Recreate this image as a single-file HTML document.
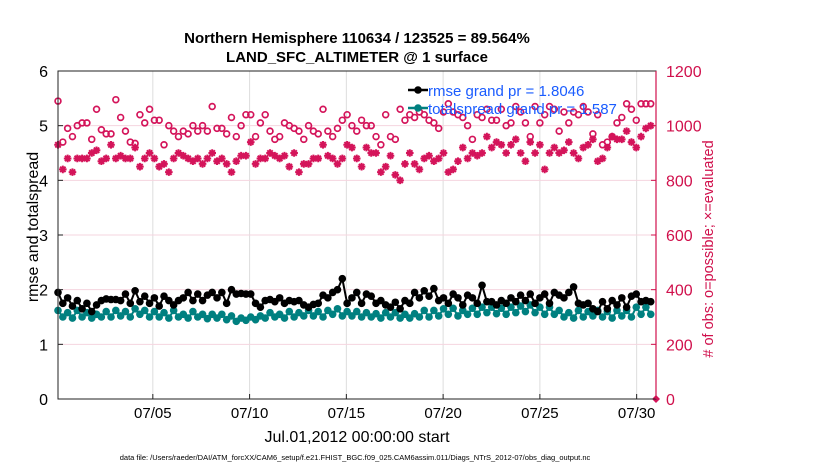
<!DOCTYPE html>
<html><head><meta charset="utf-8"><style>
body{margin:0;background:#fff;font-family:"Liberation Sans",Arial,sans-serif}
svg{display:block}
</style></head><body>
<svg id="chart" width="830" height="470" xmlns="http://www.w3.org/2000/svg" font-family="Liberation Sans, Arial, sans-serif">
<text x="357" y="43" text-anchor="middle" font-size="15" font-weight="bold">Northern Hemisphere 110634 / 123525 = 89.564%</text>
<text x="357" y="62" text-anchor="middle" font-size="15" font-weight="bold">LAND_SFC_ALTIMETER @ 1 surface</text>
<g id="grid"></g>
<g id="marks"></g>
<g id="axes"></g>
<text transform="translate(38,227) rotate(-90)" text-anchor="middle" font-size="16">rmse and totalspread</text>
<text transform="translate(713,249) rotate(-90)" text-anchor="middle" font-size="14.5" fill="#d0104c"># of obs: o=possible; ×=evaluated</text>
<text x="357" y="442" text-anchor="middle" font-size="16">Jul.01,2012 00:00:00 start</text>
<text x="355" y="460" text-anchor="middle" font-size="7.5">data file: /Users/raeder/DAI/ATM_forcXX/CAM6_setup/f.e21.FHIST_BGC.f09_025.CAM6assim.011/Diags_NTrS_2012-07/obs_diag_output.nc</text>
<g>
<line x1="408" y1="90" x2="428" y2="90" stroke="#000" stroke-width="2.5"/><circle cx="418" cy="90" r="3.8" fill="#000"/>
<text x="428" y="96" font-size="15" fill="#1a5cff">rmse grand pr = 1.8046</text>
<line x1="408" y1="108" x2="428" y2="108" stroke="#008080" stroke-width="2.5"/><circle cx="418" cy="108" r="3.8" fill="#008080"/>
<text x="428" y="114" font-size="15" fill="#1a5cff">totalspread grand pr = 1.587</text>
</g>
</svg>
<script>
const rmse=[1.95,1.75,1.85,1.7,1.8,1.65,1.75,1.6,1.72,1.8,1.83,1.82,1.82,1.8,1.92,1.75,1.98,1.78,1.88,1.75,1.85,1.7,1.88,1.8,1.72,1.8,1.85,1.95,1.8,1.92,1.8,1.9,1.95,1.85,1.95,1.75,2.0,1.92,1.93,1.92,1.92,1.75,1.68,1.8,1.82,1.78,1.85,1.75,1.8,1.78,1.8,1.72,1.68,1.73,1.75,1.9,1.85,1.95,2.0,2.2,1.75,1.85,1.95,1.75,1.92,1.88,1.75,1.8,1.72,1.68,1.77,1.65,1.8,1.75,1.95,1.85,1.98,1.88,2.02,1.8,1.85,1.75,1.92,1.85,1.72,1.9,1.85,1.75,2.08,1.78,1.78,1.72,1.8,1.75,1.85,1.78,1.9,1.8,1.92,1.75,1.85,1.92,1.75,1.95,1.9,1.85,1.95,2.05,1.75,1.72,1.75,1.65,1.6,1.78,1.65,1.8,1.72,1.85,1.68,1.88,1.92,1.78,1.8,1.78];
const spread=[1.62,1.5,1.58,1.48,1.62,1.5,1.58,1.48,1.55,1.5,1.6,1.5,1.62,1.52,1.6,1.5,1.65,1.55,1.62,1.5,1.6,1.5,1.58,1.48,1.62,1.5,1.55,1.48,1.6,1.5,1.55,1.47,1.55,1.48,1.55,1.45,1.52,1.42,1.48,1.44,1.5,1.45,1.52,1.48,1.58,1.5,1.55,1.48,1.6,1.5,1.58,1.52,1.62,1.52,1.6,1.5,1.62,1.55,1.65,1.52,1.6,1.52,1.6,1.5,1.58,1.5,1.56,1.48,1.58,1.5,1.58,1.48,1.55,1.48,1.56,1.5,1.62,1.5,1.62,1.52,1.65,1.55,1.66,1.52,1.62,1.55,1.66,1.55,1.68,1.58,1.68,1.56,1.66,1.55,1.68,1.58,1.7,1.6,1.72,1.58,1.68,1.55,1.68,1.55,1.62,1.5,1.58,1.48,1.62,1.5,1.6,1.52,1.62,1.5,1.6,1.48,1.62,1.52,1.62,1.5,1.68,1.55,1.68,1.55];
const possible=[1090,940,990,960,1000,1010,1010,950,1060,985,970,970,1095,1030,980,940,935,1040,1010,1060,1020,1020,930,1000,980,960,980,970,1000,980,1000,980,1070,990,990,970,1030,960,1000,1040,1040,960,1010,1040,980,950,960,1010,1000,990,980,950,1000,980,970,1060,980,960,990,1020,1040,1000,980,1020,1000,1000,960,930,1040,960,950,1060,1020,1040,1030,1050,1040,1020,1010,990,1050,1080,1050,1040,1030,1000,950,1040,1030,1060,1020,1020,1060,1000,1010,1070,1050,1010,960,1070,1010,1040,1070,1060,980,1050,1010,1050,1040,1070,1050,970,1040,930,940,960,1010,1030,1080,1060,1020,1080,1080,1080];
const evaluated=[930,840,880,830,880,880,880,900,910,870,880,930,880,890,880,880,920,850,880,900,880,850,860,830,880,900,890,880,870,880,860,880,900,870,880,860,830,870,890,890,940,860,880,880,900,890,880,890,850,900,830,860,860,880,880,930,890,880,860,880,930,920,880,850,920,900,900,830,850,890,820,800,860,900,860,840,880,890,870,880,900,830,840,870,920,880,900,890,900,960,920,940,930,900,930,950,900,870,940,900,930,840,900,920,900,910,940,900,880,920,930,950,870,880,920,960,950,950,980,940,920,960,990,1000];
const xTickDays=[4,9,14,19,24,29];
const xTickLabels=['07/05','07/10','07/15','07/20','07/25','07/30'];
const yTicksL=[0,1,2,3,4,5,6];
const yTicksR=[0,200,400,600,800,1000,1200];
const X0=58,X1=656,Y0=399,Y1=71,T0=-0.9,T1=30;
const ns='http://www.w3.org/2000/svg';
function xs(t){return X0+(t-T0)/(T1-T0)*(X1-X0)}
function tOf(i){return -0.9+i*0.249}
function yl(v){return Y0-v/6*(Y0-Y1)}
function yr(v){return Y0-v/1200*(Y0-Y1)}
function mk(tag,at,parent){const e=document.createElementNS(ns,tag);for(const k in at)e.setAttribute(k,at[k]);parent.appendChild(e);return e}
const grid=document.getElementById('grid'),marks=document.getElementById('marks'),axes=document.getElementById('axes');
xTickDays.forEach((d,k)=>{const x=xs(d);
const g=mk('line',{x1:x,x2:x,y1:Y1,y2:Y0,stroke:'#ddd','stroke-width':1},grid);

const t=mk('text',{x:x,y:Y0+19,'text-anchor':'middle','font-size':15},axes);t.textContent=xTickLabels[k];

mk('line',{x1:x,x2:x,y1:Y0,y2:Y0-5,stroke:'#222'},axes);});
yTicksR.forEach(v=>{const y=yr(v);
if(v>0&&v<1200){const g=mk('line',{x1:X0,x2:X1,y1:y,y2:y,stroke:'#f5d5df','stroke-width':1},grid);
}
const t=mk('text',{x:X1+10,y:y+6,'font-size':16,fill:'#d0104c'},axes);t.textContent=v;

mk('line',{x1:X1,x2:X1-5,y1:y,y2:y,stroke:'#d0104c'},axes);});
yTicksL.forEach(v=>{const y=yl(v);
const t=mk('text',{x:X0-10,y:y+6,'font-size':16,'text-anchor':'end'},axes);t.textContent=v;

mk('line',{x1:X0,x2:X0+5,y1:y,y2:y,stroke:'#222'},axes);});
mk('rect',{x:X0,y:Y1,width:X1-X0,height:Y0-Y1,fill:'none',stroke:'#222','stroke-width':1},axes);
mk('line',{x1:X1,x2:X1,y1:Y1,y2:Y0,stroke:'#d0104c','stroke-width':1.2},axes);
possible.forEach((v,i)=>{const c=mk('circle',{cx:xs(tOf(i)),cy:yr(v),r:2.9,fill:'none',stroke:'#d4145a','stroke-width':1.7},marks);
});
evaluated.forEach((v,i)=>{const x=xs(tOf(i)),y=yr(v),r=3.8;
const p=mk('path',{d:`M${x-r},${y}H${x+r}M${x},${y-r}V${y+r}M${x-2.7},${y-2.7}L${x+2.7},${y+2.7}M${x-2.7},${y+2.7}L${x+2.7},${y-2.7}`,stroke:'#d4145a','stroke-width':2},marks);
});
function series(arr,color,name){
const pl=mk('polyline',{points:arr.map((v,i)=>xs(tOf(i))+','+yl(v)).join(' '),fill:'none',stroke:color,'stroke-width':2},marks);

arr.forEach((v,i)=>{const c=mk('circle',{cx:xs(tOf(i)),cy:yl(v),r:3.8,fill:color},marks);
});}
series(spread,'#008080','totalspread');
series(rmse,'#000','rmse');
const d=mk('path',{d:`M${X1-4},${Y0}L${X1},${Y0-4}L${X1+4},${Y0}L${X1},${Y0+4}Z`,fill:'#d4145a'},marks);

</script>
</body></html>
